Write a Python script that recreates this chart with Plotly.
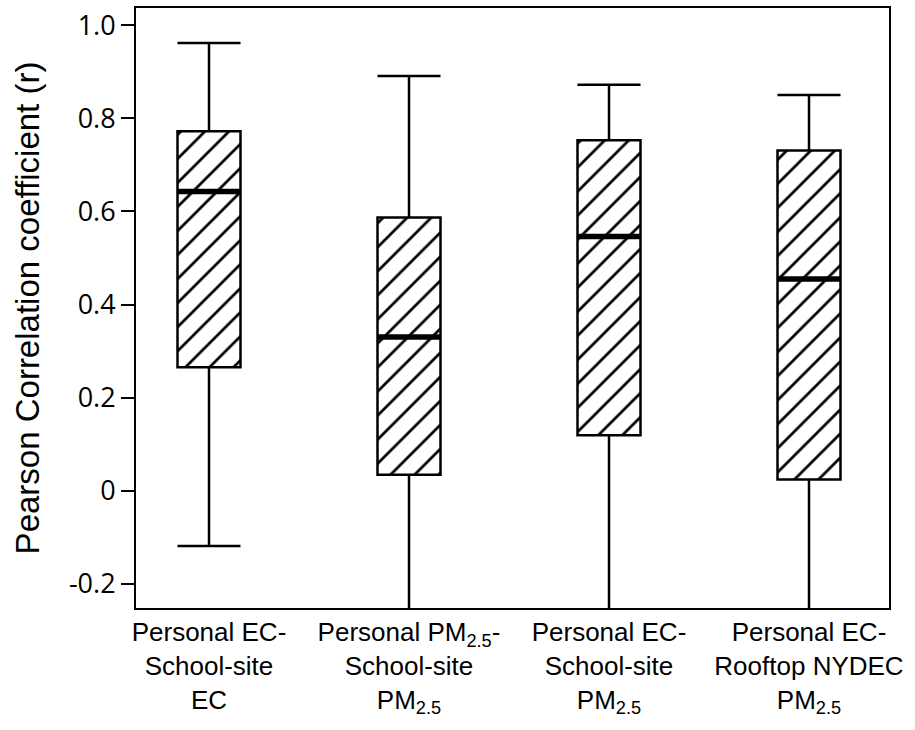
import plotly.graph_objects as go

categories = [
    "Personal EC-<br>School-site<br>EC",
    "Personal PM<sub>2.5</sub>-<br>School-site<br>PM<sub>2.5</sub>",
    "Personal EC-<br>School-site<br>PM<sub>2.5</sub>",
    "Personal EC-<br>Rooftop NYDEC<br>PM<sub>2.5</sub>",
]
upper_whisker = [0.962, 0.891, 0.872, 0.850]
q3_values = [0.772, 0.587, 0.753, 0.731]
median_values = [0.643, 0.330, 0.546, 0.455]
q1_values = [0.265, 0.0345, 0.119, 0.024]
lower_whisker = [-0.119, -0.32, -0.32, -0.32]
y_tick_values = [-0.2, 0, 0.2, 0.4, 0.6, 0.8, 1.0]
y_tick_labels = ["-0.2", "0", "0.2", "0.4", "0.6", "0.8", "1.0"]

positions = list(range(len(categories)))
box_w = 0.315

fig = go.Figure()

# hatched box bodies
fig.add_trace(go.Bar(
    x=positions,
    base=q1_values,
    y=[q3 - q1 for q3, q1 in zip(q3_values, q1_values)],
    width=box_w,
    marker=dict(color="white",
                line=dict(color="black", width=0),
                pattern=dict(shape="/", size=17, solidity=0.16,
                             fgcolor="black", bgcolor="white", fgopacity=1)),
    showlegend=False, hoverinfo="skip",
))

# box outlines and whiskers
fig.add_trace(go.Box(
    x=positions,
    q1=q1_values, median=median_values, q3=q3_values,
    lowerfence=lower_whisker, upperfence=upper_whisker,
    width=box_w, whiskerwidth=1,
    fillcolor="rgba(0,0,0,0)",
    line=dict(color="black", width=2.5),
    showlegend=False,
))

# thick medians
for p, m in zip(positions, median_values):
    fig.add_trace(go.Scatter(
        x=[p - box_w / 2, p + box_w / 2], y=[m, m], mode="lines",
        line=dict(color="black", width=5.5), showlegend=False, hoverinfo="skip",
    ))

fig.update_layout(
    width=915, height=730,
    margin=dict(l=136, r=26, t=8, b=122),
    plot_bgcolor="white", paper_bgcolor="white",
    barmode="overlay",
)
fig.update_xaxes(
    range=[-0.365, 3.40],
    tickvals=positions, ticktext=categories,
    showline=True, linecolor="black", linewidth=2, mirror=True,
    ticks="", showgrid=False, zeroline=False, automargin=False,
    tickfont=dict(family="Liberation Sans", size=26, color="black"),
)
fig.update_yaxes(
    range=[-0.252, 1.037],
    tickvals=y_tick_values, ticktext=y_tick_labels,
    showline=True, linecolor="black", linewidth=2, mirror=True,
    ticks="outside", ticklen=13, tickwidth=2, tickcolor="black",
    showgrid=False, zeroline=False, automargin=False,
    tickfont=dict(family="Open Sans", size=27, color="black"),
    title=dict(text="Pearson Correlation coefficient (r)",
               font=dict(family="Liberation Sans", size=33, color="black"),
               standoff=19),
)

fig.write_html("out.html", config={"displayModeBar": False},
               post_script="document.body.style.margin='0';")
